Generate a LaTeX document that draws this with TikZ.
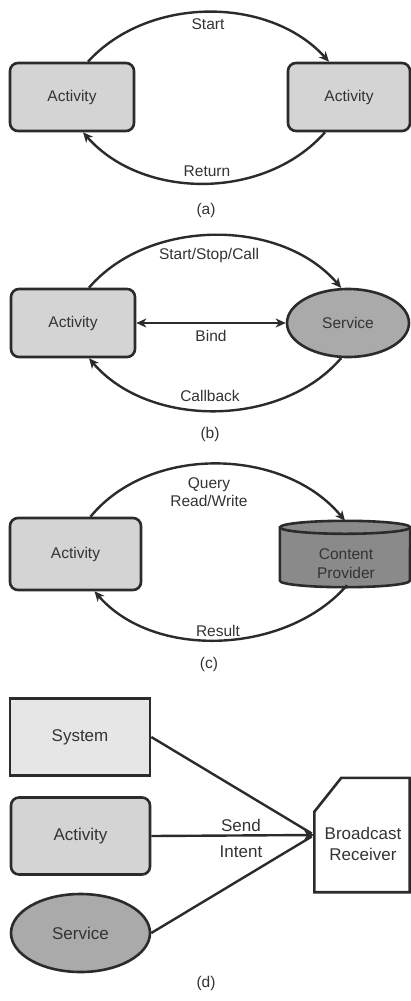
\documentclass[tikz,border=0pt]{standalone}
\usepackage{fontspec}
\setmainfont{Liberation Sans}
\usetikzlibrary{arrows.meta,shapes.geometric}
\definecolor{dk}{HTML}{2B2B2B}
\definecolor{txt}{HTML}{333333}
\definecolor{actfill}{HTML}{D4D4D4}
\definecolor{svcfill}{HTML}{AAAAAA}
\definecolor{cpfill}{HTML}{8A8A8A}
\definecolor{sysfill}{HTML}{E6E6E6}
\begin{document}
\begin{tikzpicture}[x=1pt,y=-1pt,
  txtsm/.style={font=\fontsize{15.5}{19}\selectfont, text=txt},
  txtlg/.style={font=\fontsize{17}{21}\selectfont, text=txt},
  actbox/.style={draw=dk, line width=2.6pt, fill=actfill, rounded corners=8pt, inner sep=0pt},
  svcell/.style={ellipse, draw=dk, line width=2.6pt, fill=svcfill, inner sep=0pt},
  sysbox/.style={draw=dk, line width=2.6pt, fill=sysfill, inner sep=0pt},
  holder/.style={inner sep=0pt},
  conn/.style={draw=dk, line width=2.4pt},
  tip/.style={-{Stealth[length=10pt,width=9pt,inset=3pt]}},
  lbl/.style={txtsm, anchor=base, inner sep=0pt},
  lbllg/.style={txtlg, anchor=base, inner sep=0pt}]
\useasboundingbox[fill=white] (0,0) rectangle (411,1001);

% ---------- (a) Activity -> Activity ----------
\node[actbox, txtsm, minimum width=124pt, minimum height=68pt] (a1) at (72,97) {Activity};
\node[actbox, txtsm, minimum width=122pt, minimum height=68pt] (a2) at (349,97) {Activity};
\draw[conn, tip] ([xshift=16pt]a1.north) .. controls +(60,-66) and +(-60,-66) .. ([xshift=-20pt]a2.north);
\draw[conn, tip] ([xshift=-24pt]a2.south) .. controls +(-60,68) and +(60,68) .. ([xshift=11pt]a1.south);
\node[lbl] (la1) at (208,29.5) {Start};
\node[lbl] (la2) at (207,176) {Return};
\node[lbl] (capa) at (206,214) {(a)};

% ---------- (b) Activity <-> Service ----------
\node[actbox, txtsm, minimum width=124pt, minimum height=68pt] (b1) at (73,323) {Activity};
\node[svcell, txtsm, minimum width=122pt, minimum height=68pt] (bs) at (348,323) {Service};
\draw[conn, tip] ([xshift=16pt]b1.north) .. controls +(60,-70) and +(-60,-70) .. (bs.101);
\draw[conn, {Stealth[length=10pt,width=9pt,inset=3pt]}-{Stealth[length=10pt,width=9pt,inset=3pt]}] (b1.east) -- (bs.west);
\draw[conn, tip] (bs.259) .. controls +(-60,70) and +(60,70) .. ([xshift=16pt]b1.south);
\node[lbl] (lb1) at (209,259.5) {Start/Stop/Call};
\node[lbl] (lb2) at (211,341.5) {Bind};
\node[lbl] (lb3) at (210,401.5) {Callback};
\node[lbl] (capb) at (210,438) {(b)};

% ---------- (c) Activity <-> Content Provider ----------
\node[actbox, txtsm, minimum width=131pt, minimum height=72pt] (c1) at (75.5,554) {Activity};
\node[holder, minimum width=130pt, minimum height=66pt] (cp) at (345,554) {};
% cylinder body and top rim
\draw[draw=dk, line width=2.6pt, fill=cpfill]
  ([yshift=-6.5pt]cp.north west) -- ([yshift=6.5pt]cp.south west)
  arc[start angle=180, end angle=360, x radius=65pt, y radius=6.5pt]
  -- ([yshift=-6.5pt]cp.north east)
  arc[start angle=0, end angle=180, x radius=65pt, y radius=6.5pt] -- cycle;
\draw[draw=dk, line width=2.6pt] ([yshift=-6.5pt]cp.north east)
  arc[start angle=0, end angle=-180, x radius=65pt, y radius=6.5pt];
\node[txtsm, align=center, inner sep=0pt] (cptext) at (346,564) {Content\\Provider};
\draw[conn, tip] ([xshift=15pt]c1.north) .. controls +(60,-73) and +(-60,-73) .. (cp.north);
\draw[conn, tip] ([xshift=2pt,yshift=2pt]cp.south) .. controls +(-60,69) and +(60,69) .. ([xshift=19pt]c1.south);
\node[lbl] (lc1) at (209,488) {Query};
\node[lbl] (lc2) at (209,506) {Read/Write};
\node[lbl] (lc3) at (218,636) {Result};
\node[lbl] (capc) at (209,668) {(c)};

% ---------- (d) senders -> Broadcast Receiver ----------
\node[sysbox, txtlg, minimum width=140pt, minimum height=77pt] (sys) at (80,737) {System};
\node[actbox, txtlg, minimum width=139pt, minimum height=77pt] (d1) at (80.5,836) {Activity};
\node[svcell, txtlg, minimum width=139pt, minimum height=78pt] (ds) at (80.5,933) {Service};
\node[holder, minimum width=95pt, minimum height=114pt] (br) at (362,835) {};
\draw[draw=dk, line width=2.6pt, fill=white]
  (br.south west) -- (br.south east) -- (br.north east)
  -- ([xshift=27pt]br.north west) -- ([yshift=-34pt]br.north west) -- cycle;
\node[txtlg, align=center, inner sep=0pt] (brtext) at (363,844) {Broadcast\\Receiver};
\draw[conn, shorten >=3pt] (sys.east) -- (br.west);
\draw[conn, shorten >=3pt] (ds.east) -- (br.west);
\draw[conn, tip] (d1.east) -- (br.west);
\node[lbllg] (ld1) at (241,831) {Send};
\node[lbllg] (ld2) at (241,857) {Intent};
\node[lbl] (capd) at (206,987) {(d)};
\end{tikzpicture}
\end{document}
